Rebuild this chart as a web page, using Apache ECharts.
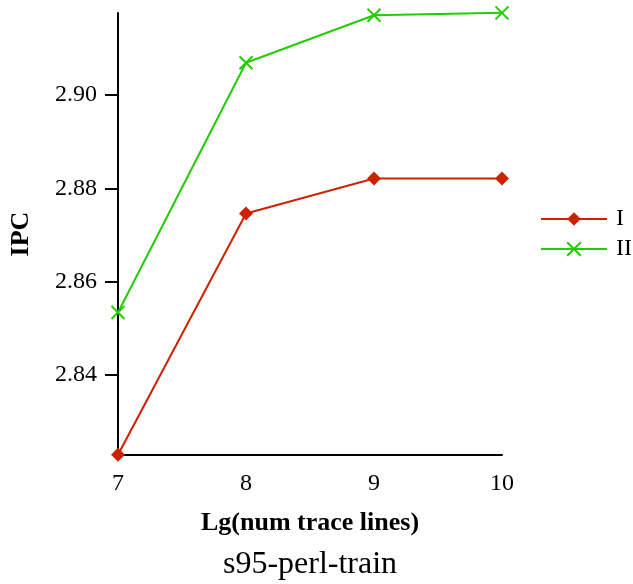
<!DOCTYPE html>
<html>
<head>
<meta charset="utf-8">
<script src="https://cdn.jsdelivr.net/npm/echarts@6/dist/echarts.min.js"></script>
<style>
  html, body { margin: 0; padding: 0; background: #fff; }
  #container { width: 633px; height: 584px; }
</style>
</head>
<body>
<div id="container"></div>
<script>
var xValues = [7, 8, 9, 10];
var seriesI = [2.8229, 2.8746, 2.8821, 2.8821];
var seriesII = [2.8534, 2.9069, 2.9171, 2.9176];
var seriesNames = ["I", "II"];

var font = "Liberation Serif";
var dom = document.getElementById("container");
var myChart = echarts.init(dom);

function pairs(vals) {
  return xValues.map(function (x, i) { return [x, vals[i]]; });
}

var option = {
  backgroundColor: "#fff",
  animation: false,
  title: {
    text: "s95-perl-train",
    left: 305,
    textAlign: "center",
    top: 544,
    textStyle: { fontFamily: font, fontSize: 32, fontWeight: "normal", color: "#000" }
  },
  legend: {
    orient: "vertical",
    left: 535,
    top: 202,
    itemWidth: 66,
    itemHeight: 17,
    itemGap: 6,
    data: seriesNames,
    textStyle: { fontFamily: font, fontSize: 24, lineHeight: 24, color: "#000", padding: [0, 0, 0, 4] }
  },
  grid: { left: 118, right: 131, top: 13, bottom: 129, containLabel: false },
  xAxis: {
    type: "value",
    min: 7,
    max: 10,
    interval: 1,
    name: "Lg(num trace lines)",
    nameLocation: "middle",
    nameGap: 55,
    nameTextStyle: { fontFamily: font, fontSize: 26, fontWeight: "bold", color: "#000" },
    axisLine: { lineStyle: { color: "#000", width: 2 } },
    axisTick: { show: false },
    splitLine: { show: false },
    axisLabel: { fontFamily: font, fontSize: 24, color: "#000", margin: 17 }
  },
  yAxis: {
    type: "value",
    min: 2.82286,
    max: 2.91757,
    minInterval: 0.02,
    maxInterval: 0.02,
    name: "IPC",
    nameLocation: "middle",
    nameGap: 84,
    nameRotate: 90,
    nameTextStyle: { fontFamily: font, fontSize: 26, fontWeight: "bold", color: "#000" },
    axisLine: { show: true, lineStyle: { color: "#000", width: 2 } },
    axisTick: { show: true, length: 13, lineStyle: { color: "#000", width: 2 } },
    splitLine: { show: false },
    axisLabel: {
      fontFamily: font, fontSize: 24, color: "#000", margin: 21,
      showMinLabel: false, showMaxLabel: false,
      formatter: function (v) { return v.toFixed(2); }
    }
  },
  series: [
    {
      name: seriesNames[0],
      type: "line",
      data: pairs(seriesI),
      symbol: "diamond",
      symbolSize: 14,
      itemStyle: { color: "#cc2200" },
      lineStyle: { color: "#cc2200", width: 2 },
      clip: false
    },
    {
      name: seriesNames[1],
      type: "line",
      data: pairs(seriesII),
      symbol: "path://M0,0L10,10M10,0L0,10",
      symbolSize: 13,
      itemStyle: { color: "#22cc00", borderColor: "#22cc00", borderWidth: 2 },
      lineStyle: { color: "#22cc00", width: 2 },
      clip: false
    }
  ]
};
myChart.setOption(option);
</script>
</body>
</html>
